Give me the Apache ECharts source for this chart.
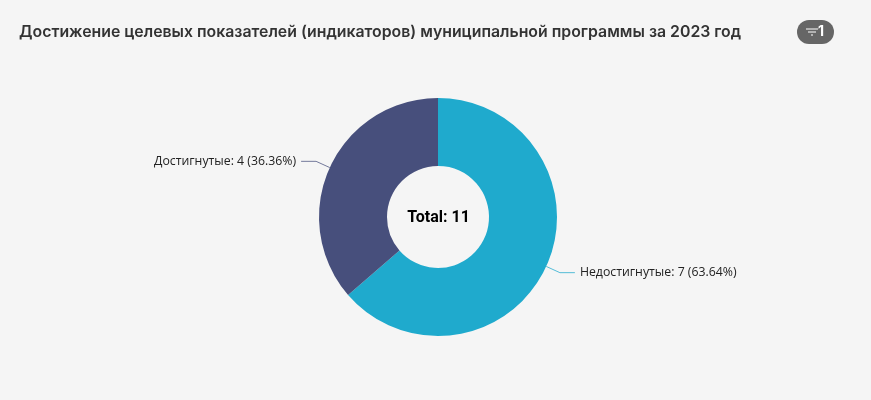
<!DOCTYPE html>
<html>
<head>
    <meta charset="utf-8">
    <title>Достижение целевых показателей</title>
    <style>
        html, body { margin: 0; padding: 0; background: #f5f5f5; }
    </style>
</head>
<body>
    <div id="main" style="width: 871px;height:400px;"></div>

    <script src="https://cdn.jsdelivr.net/npm/echarts@6/dist/echarts.min.js"></script>
    <script type="text/javascript">
        var chartTitle = 'Достижение целевых показателей (индикаторов) муниципальной программы за 2023 год';
        var categories = ['Недостигнутые', 'Достигнутые'];
        var values = [7, 4];
        var percents = ['63.64', '36.36'];
        var colors = ['#1faacd', '#474f7c'];
        var totalLabel = 'Total: 11';
        var filterCount = '1';

        var pieData = [];
        for (var i = 0; i < categories.length; i++) {
            pieData.push({
                name: categories[i],
                value: values[i],
                itemStyle: { color: colors[i] },
                labelLine: { lineStyle: { color: colors[i] } },
                label: { formatter: categories[i] + ': ' + values[i] + ' (' + percents[i] + '%)' }
            });
        }

        var myChart = echarts.init(document.getElementById('main'));
        var option = {
            backgroundColor: '#f5f5f5',
            animation: false,
            textStyle: { fontFamily: 'Inter, "Noto Sans", sans-serif' },
            title: [
                {
                    text: chartTitle,
                    left: 19,
                    top: 23,
                    padding: 0,
                    textStyle: { fontFamily: 'Inter, "Noto Sans", sans-serif', fontSize: 15.85, fontWeight: 600, color: '#333333', lineHeight: 19 }
                },
                {
                    text: totalLabel,
                    left: 438.5,
                    top: 217.5,
                    textAlign: 'center',
                    textVerticalAlign: 'middle',
                    padding: 0,
                    textStyle: { fontFamily: 'Roboto, Arial, sans-serif', fontSize: 16, fontWeight: 'bold', color: '#000000' }
                }
            ],
            graphic: [
                {
                    type: 'group',
                    left: 797,
                    top: 20,
                    children: [
                        { type: 'rect', shape: { x: 0, y: 0, width: 37, height: 24, r: 12 }, style: { fill: '#666666' } },
                        { type: 'line', shape: { x1: 9, y1: 9, x2: 21, y2: 9 }, style: { stroke: '#ffffff', lineWidth: 1 } },
                        { type: 'line', shape: { x1: 11, y1: 12, x2: 19, y2: 12 }, style: { stroke: '#ffffff', lineWidth: 1 } },
                        { type: 'line', shape: { x1: 14, y1: 15, x2: 16, y2: 15 }, style: { stroke: '#ffffff', lineWidth: 1 } },
                        { type: 'text', x: 21, y: 5, style: { text: filterCount, fill: '#ffffff', font: 'bold 14px Inter, sans-serif' } }
                    ]
                }
            ],
            series: [
                {
                    type: 'pie',
                    center: [438, 217],
                    radius: [51, 119],
                    startAngle: 90,
                    clockwise: true,
                    data: pieData,
                    label: {
                        show: true,
                        color: '#222222',
                        fontSize: 12.3,
                        fontFamily: '"Open Sans", "Noto Sans", sans-serif'
                    },
                    labelLine: {
                        show: true,
                        length: 15,
                        length2: 15,
                        lineStyle: { width: 1, opacity: 0.75 }
                    }
                }
            ]
        };
        myChart.setOption(option);
    </script>
</body>
</html>
